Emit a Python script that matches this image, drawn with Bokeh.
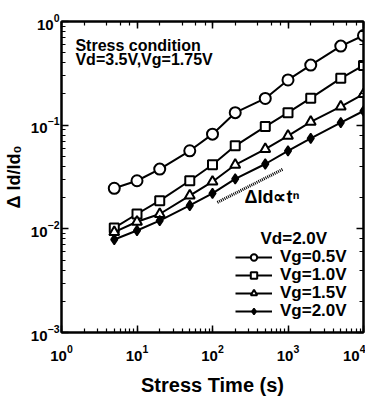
from bokeh.plotting import figure
from bokeh.models import Label, Legend, LegendItem, LogAxis, Range1d
from bokeh.embed import file_html
from bokeh.resources import INLINE

# ---- data ----
stress_time = [5, 10, 20, 50, 100, 200, 500, 1000, 2000, 5000, 10000]
vg05 = [0.0246, 0.0291, 0.0377, 0.0566, 0.0819, 0.132, 0.181, 0.273, 0.380, 0.579, 0.733]
vg10 = [0.0102, 0.0139, 0.0187, 0.0291, 0.0415, 0.0632, 0.097, 0.132, 0.182, 0.283, 0.377]
vg15 = [0.0093, 0.0117, 0.0139, 0.0209, 0.0285, 0.0415, 0.0588, 0.0789, 0.1076, 0.151, 0.199]
vg20 = [0.00789, 0.00964, 0.0120, 0.0168, 0.0220, 0.0303, 0.0422, 0.0566, 0.0745, 0.106, 0.137]
series_labels = ["Vg=0.5V", "Vg=1.0V", "Vg=1.5V", "Vg=2.0V"]
trend_x = [116, 845]
trend_y = [0.0180, 0.0374]

FONT = "Liberation Sans"

p = figure(frame_width=302, frame_height=311, x_axis_type="log", y_axis_type="log",
           x_range=Range1d(1, 1e4), y_range=Range1d(1e-3, 1),
           output_backend="svg", toolbar_location=None,
           min_border_left=51, min_border_right=2, min_border_top=21, min_border_bottom=60)
p.grid.visible = False
p.outline_line_color = "black"
p.outline_line_width = 2
p.background_fill_color = "white"
p.border_fill_color = "white"

for ax in (p.xaxis[0], p.yaxis[0]):
    ax.axis_line_width = 2
    ax.major_tick_in = 7
    ax.major_tick_out = 0
    ax.minor_tick_in = 4
    ax.minor_tick_out = 0
    ax.major_tick_line_width = 1.5
    ax.minor_tick_line_width = 1.2
    ax.major_label_text_font = FONT
    ax.major_label_text_font_style = "bold"
    ax.major_label_text_font_size = "15px"
    ax.major_label_text_color = "black"
    ax.axis_label_text_font = FONT
    ax.axis_label_text_font_style = "bold"
    ax.axis_label_text_color = "black"

p.xaxis[0].axis_label = "Stress Time (s)"
p.xaxis[0].axis_label_text_font_size = "20px"
p.yaxis[0].axis_label = "Δ Id/Id₀"
p.yaxis[0].axis_label_text_font_size = "18px"
p.xaxis[0].major_label_standoff = 12
p.yaxis[0].major_label_standoff = 2
p.xaxis[0].axis_label_standoff = 10
p.yaxis[0].axis_label_standoff = 4

for loc in ("above", "right"):
    ax = LogAxis(major_label_text_font_size="1px", major_label_text_alpha=0,
                 major_label_standoff=0, major_tick_in=7, major_tick_out=0,
                 minor_tick_in=4, minor_tick_out=0, axis_line_width=2,
                 major_tick_line_width=1.5, minor_tick_line_width=1.2)
    p.add_layout(ax, loc)

r0l = p.line(stress_time, vg05, line_color="black", line_width=2)
r0m = p.scatter(stress_time, vg05, marker="circle", size=11, fill_color="white", line_color="black", line_width=2)
r1l = p.line(stress_time, vg10, line_color="black", line_width=2)
r1m = p.scatter(stress_time, vg10, marker="square", size=9, fill_color="white", line_color="black", line_width=2)
r2l = p.line(stress_time, vg15, line_color="black", line_width=2)
r2m = p.scatter(stress_time, vg15, marker="triangle", size=10, fill_color="white", line_color="black", line_width=2)
r3l = p.line(stress_time, vg20, line_color="black", line_width=2)
r3m = p.scatter(stress_time, vg20, marker="diamond", size=10, fill_color="black", line_color="black", line_width=1.5)

p.line(trend_x, trend_y, line_color="black", line_width=3, line_dash="1 1")

# one legend per row so that the row spacing matches the reference
row_bottoms = [65, 47, 29, 11]
renderer_sets = [[r0l, r0m], [r1l, r1m], [r2l, r2m], [r3l, r3m]]
for lbl, rs, yb in zip(series_labels, renderer_sets, row_bottoms):
    lg = Legend(items=[LegendItem(label=lbl, renderers=rs)], location=(174, yb))
    lg.background_fill_alpha = 0
    lg.border_line_alpha = 0
    lg.padding = 0
    lg.margin = 0
    lg.spacing = 0
    lg.label_height = 16
    lg.glyph_height = 16
    lg.glyph_width = 37
    lg.label_standoff = 8
    lg.label_text_font = FONT
    lg.label_text_font_style = "bold"
    lg.label_text_font_size = "17px"
    lg.label_text_color = "black"
    p.add_layout(lg, "center")

def lab(x, y, text, size):
    p.add_layout(Label(x=x, y=y, text=text, text_font=FONT, text_font_style="bold",
                       text_font_size=size, text_color="black", text_baseline="alphabetic"))

lab(1.53, 0.587, "Stress condition", "16px")
lab(1.53, 0.434, "Vd=3.5V,Vg=1.75V", "16px")
lab(432, 0.0080, "Vd=2.0V", "17px")
lab(265, 0.0205, "ΔId∝tⁿ", "18px")

open("out.html", "w").write(file_html(p, INLINE))
